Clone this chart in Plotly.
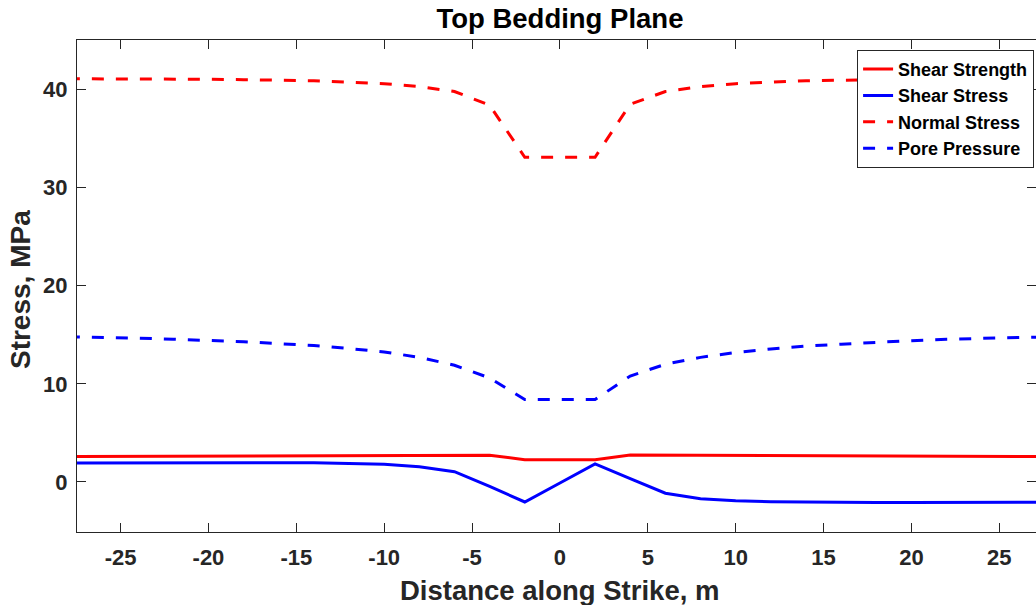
import plotly.graph_objects as go

# Distance along strike (m) and stresses on the top bedding plane (MPa)
distance = [-28, -26, -24, -22, -20, -18, -16, -14, -12, -10, -8, -6, -4, -2,
            0, 2, 4, 6, 8, 10, 12, 14, 16, 18, 20, 22, 24, 26, 28]

shear_strength = [2.58, 2.59, 2.60, 2.61, 2.62, 2.63, 2.64, 2.65, 2.66, 2.68, 2.70, 2.71, 2.72, 2.27,
                  2.27, 2.27, 2.76, 2.75, 2.74, 2.72, 2.71, 2.69, 2.67, 2.66, 2.64, 2.62, 2.61, 2.59, 2.58]

shear_stress = [1.92, 1.94, 1.96, 1.97, 1.98, 1.98, 1.97, 1.95, 1.90, 1.80, 1.55, 1.05, -0.45, -2.04,
                -0.10, 1.84, 0.35, -1.15, -1.70, -1.92, -2.02, -2.07, -2.10, -2.10, -2.10, -2.10, -2.08, -2.06, -2.05]

normal_stress = [41.10, 41.10, 41.10, 41.10, 41.05, 41.00, 40.95, 40.90, 40.75, 40.60, 40.30, 39.80, 38.40, 33.10,
                 33.10, 33.10, 38.50, 39.80, 40.30, 40.60, 40.75, 40.90, 40.95, 41.00, 41.05, 41.10, 41.10, 41.10, 41.10]

pore_pressure = [14.80, 14.75, 14.65, 14.55, 14.45, 14.30, 14.10, 13.90, 13.60, 13.25, 12.70, 11.90, 10.60, 8.40,
                 8.40, 8.40, 10.80, 12.00, 12.70, 13.20, 13.55, 13.85, 14.05, 14.25, 14.40, 14.55, 14.65, 14.75, 14.80]

x_ticks = [-25, -20, -15, -10, -5, 0, 5, 10, 15, 20, 25]
x_tick_labels = ["-25", "-20", "-15", "-10", "-5", "0", "5", "10", "15", "20", "25"]
y_ticks = [0, 10, 20, 30, 40]
y_tick_labels = ["0", "10", "20", "30", "40"]

FONT = "Liberation Sans, Arial, sans-serif"
AXIS_COLOR = "#262626"
DASH = "12px,12px"

series = [
    ("Shear Strength", shear_strength, "#ff0000", "solid"),
    ("Shear Stress", shear_stress, "#0000ff", "solid"),
    ("Normal Stress", normal_stress, "#ff0000", DASH),
    ("Pore Pressure", pore_pressure, "#0000ff", DASH),
]

fig = go.Figure()
for name, values, color, dash in series:
    fig.add_trace(go.Scatter(
        x=distance, y=values, name=name, mode="lines",
        line=dict(color=color, width=3, dash=dash),
    ))

axis_common = dict(
    showgrid=False, zeroline=False, showline=True, linecolor=AXIS_COLOR, linewidth=1,
    ticks="inside", ticklen=9, tickwidth=1, tickcolor=AXIS_COLOR, mirror="ticks",
    tickfont=dict(family=FONT, size=22, color=AXIS_COLOR, weight="bold"),
)

fig.update_layout(
    width=1036, height=605,
    margin=dict(l=77, r=0, t=40, b=73),
    paper_bgcolor="white", plot_bgcolor="white",
    showlegend=True,
    title=dict(
        text="Top Bedding Plane", x=0.5036, xref="paper", xanchor="center",
        y=1 - 18 / 605, yref="container", yanchor="middle",
        font=dict(family=FONT, size=27.5, color="black", weight="bold"),
    ),
    xaxis=dict(range=[-27.48, 27.09], tickvals=x_ticks, ticktext=x_tick_labels,
               ticklabelstandoff=6, **axis_common),
    yaxis=dict(range=[-5.1, 45.05], tickvals=y_ticks, ticktext=y_tick_labels,
               ticklabelstandoff=4, **axis_common),
    legend=dict(
        x=0.998, y=0.98, xanchor="right", yanchor="top",
        bgcolor="white", bordercolor=AXIS_COLOR, borderwidth=1,
        font=dict(family=FONT, size=18, color="black", weight="bold"),
        itemwidth=30, tracegroupgap=0,
    ),
    annotations=[
        dict(text="Distance along Strike, m", xref="paper", yref="paper",
             x=0.5036, y=-0.118, xanchor="center", yanchor="middle", showarrow=False,
             font=dict(family=FONT, size=27.5, color=AXIS_COLOR, weight="bold")),
        dict(text="Stress, MPa", xref="paper", yref="paper", textangle=-90,
             x=-0.0583, y=0.492, xanchor="center", yanchor="middle", showarrow=False,
             font=dict(family=FONT, size=28, color=AXIS_COLOR, weight="bold")),
    ],
)

fig.write_html("out.html")
